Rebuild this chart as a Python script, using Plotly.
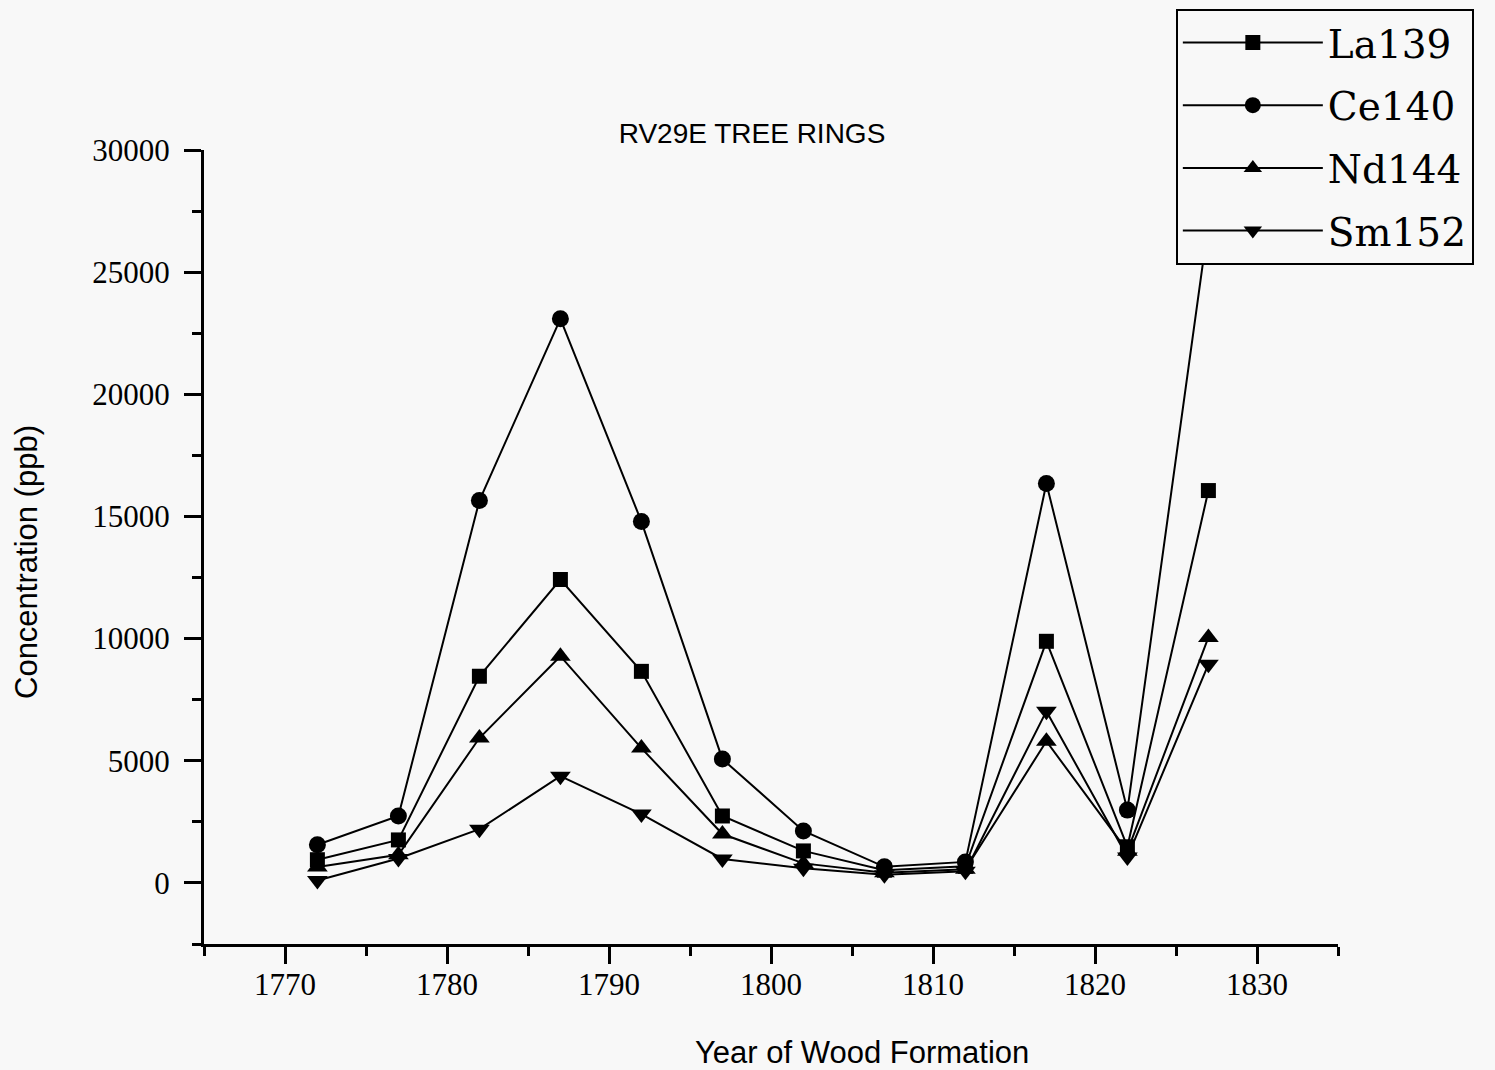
import plotly.graph_objects as go

years = [1772, 1777, 1782, 1787, 1792, 1797, 1802, 1807, 1812, 1817, 1822, 1827]
la139 = [950, 1760, 8460, 12420, 8660, 2740, 1310, 520, 680, 9890, 1480, 16060]
ce140 = [1560, 2740, 15650, 23090, 14790, 5070, 2130, 660, 860, 16350, 2980, 27000]
nd144 = [650, 1150, 5930, 9280, 5520, 2000, 800, 420, 560, 5800, 1300, 10050]
sm152 = [100, 1000, 2200, 4370, 2820, 980, 600, 330, 480, 7030, 1060, 8950]

x_ticks = [1770, 1780, 1790, 1800, 1810, 1820, 1830]
y_ticks = [0, 5000, 10000, 15000, 20000, 25000, 30000]

series = [
    ("La139", la139, "square", 15),
    ("Ce140", ce140, "circle", 17),
    ("Nd144", nd144, "triangle-up", 18),
    ("Sm152", sm152, "triangle-down", 18),
]

fig = go.Figure()
for name, vals, sym, sz in series:
    fig.add_trace(go.Scatter(
        x=years, y=vals, name=name, mode="lines+markers", legendgroup=name,
        line=dict(color="black", width=2),
        marker=dict(symbol=sym, size=sz, color="black"),
    ))

bg = "#f8f8f8"
tickfont = dict(family="Liberation Serif", size=31, color="black")
fig.update_layout(
    width=1495, height=1070,
    paper_bgcolor=bg, plot_bgcolor=bg,
    margin=dict(l=204, r=157, t=150, b=126, autoexpand=False),
    showlegend=True,
    legend=dict(
        x=0.857, y=1.178, xanchor="left", yanchor="top",
        bgcolor=bg, bordercolor="black", borderwidth=2,
        font=dict(family="DejaVu Serif", size=39, color="black"),
        itemwidth=140, tracegroupgap=9,
    ),
    title=dict(
        text="RV29E TREE RINGS",
        x=(752 - 204) / 1134, xref="paper", xanchor="center",
        y=1 - 133 / 1070, yanchor="middle",
        font=dict(family="Liberation Sans", size=28, color="black"),
    ),
    xaxis=dict(
        range=[1765, 1835], tickvals=x_ticks, ticktext=[str(v) for v in x_ticks],
        showgrid=False, zeroline=False, showline=True, linecolor="black", linewidth=3,
        ticks="outside", ticklen=17, tickwidth=3, tickcolor="black",
        tickfont=tickfont, ticklabelstandoff=-6,
        minor=dict(dtick=5, tick0=1765, ticks="outside", ticklen=9, tickwidth=3, tickcolor="black", showgrid=False),
    ),
    yaxis=dict(
        range=[-2500, 30000], tickvals=y_ticks, ticktext=[str(v) for v in y_ticks],
        showgrid=False, zeroline=False, showline=True, linecolor="black", linewidth=3,
        ticks="outside", ticklen=17, tickwidth=3, tickcolor="black",
        tickfont=tickfont, ticklabelstandoff=8,
        minor=dict(dtick=2500, tick0=0, ticks="outside", ticklen=9, tickwidth=3, tickcolor="black", showgrid=False),
    ),
    annotations=[
        dict(text="Year of Wood Formation", xref="paper", yref="paper",
             x=(862 - 204) / 1134, y=(944 - 1052) / 794, xanchor="center", yanchor="middle",
             showarrow=False, font=dict(family="Liberation Sans", size=31, color="black")),
        dict(text="Concentration (ppb)", xref="paper", yref="paper",
             x=(26 - 204) / 1134, y=(944 - 562) / 794, xanchor="center", yanchor="middle",
             textangle=-90, showarrow=False,
             font=dict(family="Liberation Sans", size=31, color="black")),
    ],
)

fig.write_html(
    "out.html",
    config={"displayModeBar": False},
    post_script="document.body.style.margin='0';document.body.style.background='#f8f8f8';",
)
